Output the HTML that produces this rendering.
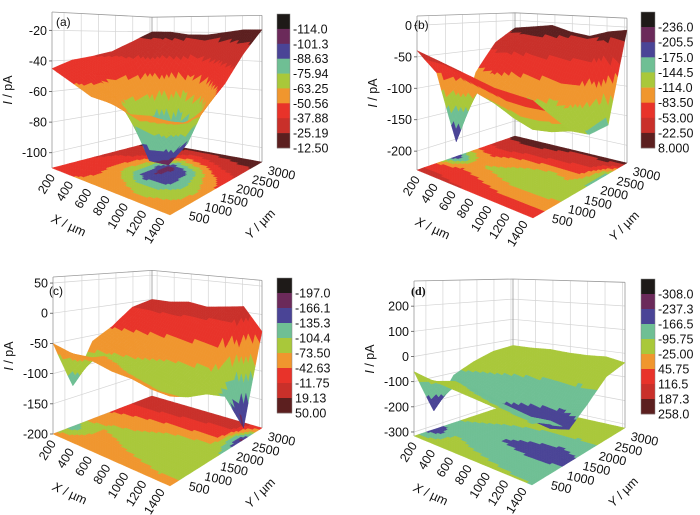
<!DOCTYPE html>
<html><head><meta charset="utf-8">
<style>
html,body{margin:0;padding:0;background:#fff;}
svg{display:block;font-family:"Liberation Sans",Arial,sans-serif;}
</style></head>
<body>
<svg id="fig" width="700" height="515" viewBox="0 0 700 515"></svg>
<script>
// ---- data ----
const xVals = [200, 400, 600, 800, 1000, 1200, 1400];
const yVals = [200, 760, 1320, 1880, 2440, 3000];
const xTickLabels = [200, 400, 600, 800, 1000, 1200, 1400];
const yTickLabels = [500, 1000, 1500, 2000, 2500, 3000];
const levelColors = ['#1e1a18','#6b2a5a','#4a4496','#6fbf94','#a9c83a','#f0962e','#e8332a','#c9302a','#5c1f1f'];

const gridA = [
  [-45,-50,-55,-55,-58,-55,-55],
  [-40,-45,-55,-65,-70,-65,-60],
  [-38,-45,-70,-100,-95,-75,-55],
  [-35,-40,-65,-108,-90,-60,-45],
  [-28,-30,-40,-55,-45,-35,-30],
  [-20,-20,-22,-22,-20,-18,-18]
];
const gridB = [
  [-40,-45,-50,-55,-60,-60,-60],
  [-80,-70,-80,-90,-100,-100,-95],
  [-205,-110,-120,-135,-145,-140,-130],
  [-90,-80,-100,-110,-120,-110,-150],
  [-40,-35,-45,-50,-55,-60,-150],
  [-15,-10,-5,-15,-20,-10,-5]
];
const gridC = [
  [-50,-55,-55,-60,-60,-65,-65],
  [-130,-70,-70,-75,-80,-85,-80],
  [-60,-75,-80,-90,-95,-100,-90],
  [-40,-50,-60,-70,-75,-80,-110],
  [-10,-10,-15,-15,-20,-25,-180],
  [0,0,5,0,5,10,-30]
];
const gridD = [
  [-60,-70,-75,-80,-85,-90,-95],
  [-240,-90,-100,-110,-120,-130,-120],
  [-110,-120,-150,-180,-200,-210,-190],
  [-70,-90,-110,-130,-140,-150,-130],
  [-40,-40,-45,-50,-50,-55,-60],
  [-30,-30,-25,-30,-30,-25,-40]
];

const legendA = [-114.0,-101.3,-88.63,-75.94,-63.25,-50.56,-37.88,-25.19,-12.50];
const legendB = [-236.0,-205.5,-175.0,-144.5,-114.0,-83.50,-53.00,-22.50,8.000];
const legendC = [-197.0,-166.1,-135.3,-104.4,-73.50,-42.63,-11.75,19.13,50.00];
const legendD = [-308.0,-237.3,-166.5,-95.75,-25.00,45.75,116.5,187.3,258.0];
const legendTextA = ['-114.0','-101.3','-88.63','-75.94','-63.25','-50.56','-37.88','-25.19','-12.50'];
const legendTextB = ['-236.0','-205.5','-175.0','-144.5','-114.0','-83.50','-53.00','-22.50','8.000'];
const legendTextC = ['-197.0','-166.1','-135.3','-104.4','-73.50','-42.63','-11.75','19.13','50.00'];
const legendTextD = ['-308.0','-237.3','-166.5','-95.75','-25.00','45.75','116.5','187.3','258.0'];

const zTicksA = [-100,-80,-60,-40,-20];
const zTicksB = [-200,-150,-100,-50,0];
const zTicksC = [-200,-150,-100,-50,0,50];
const zTicksD = [-300,-200,-100,0,100,200];

// ---- layout ----
const panels = [
  {id:'a', ox:0, oy:0, L:[52,168], F:[170,215], R:[262,162], B:[152,142], zmin:-110, zmax:-8, H:156,
   grid:gridA, levels:legendA, ltext:legendTextA, zt:zTicksA, cb:[277,14,13,134], letter:'(a)', lp:[56,26], serif:false},
  {id:'b', ox:350, oy:0, L:[67,170], F:[183,218], R:[277,163], B:[165,136], zmin:-230, zmax:15, H:154,
   grid:gridB, levels:legendB, ltext:legendTextB, zt:zTicksB, cb:[291,12,14,136], letter:'(b)', lp:[64,29], serif:false},
  {id:'c', ox:0, oy:258, L:[53,176], F:[170,228], R:[262,170], B:[152,138], zmin:-200, zmax:60, H:157,
   grid:gridC, levels:legendC, ltext:legendTextC, zt:zTicksC, cb:[277,20,15,135], letter:'(c)', lp:[49,37], serif:false},
  {id:'d', ox:350, oy:258, L:[64,178], F:[182,227], R:[275,170], B:[163,145], zmin:-316, zmax:300, H:155,
   grid:gridD, levels:legendD, ltext:legendTextD, zt:zTicksD, cb:[291,21,14,135], letter:'(d)', lp:[61,37], serif:true}
];
const XMIN=140, XMAX=1430, YMIN=150, YMAX=3060;
const NS='http://www.w3.org/2000/svg';
const svg=document.getElementById('fig');

function mk(tag, attrs, parent){
  const e=document.createElementNS(NS,tag);
  for(const k in attrs) e.setAttribute(k, attrs[k]);
  parent.appendChild(e); return e;
}
function xn(X){return (X-XMIN)/(XMAX-XMIN);}
function yn(Y){return (Y-YMIN)/(YMAX-YMIN);}
function proj(p,x,y,z){
  const w0=(1-x)*(1-y), w1=x*(1-y), w2=x*y, w3=(1-x)*y;
  const bx=p.L[0]*w0+p.F[0]*w1+p.R[0]*w2+p.B[0]*w3;
  const by=p.L[1]*w0+p.F[1]*w1+p.R[1]*w2+p.B[1]*w3;
  const h=p.H*(w0+1.1*w1+0.94*w2+0.8*w3);
  const zc=Math.max(p.zmin,Math.min(p.zmax,z));
  const t=(zc-p.zmin)/(p.zmax-p.zmin);
  return [bx, by-t*h];
}
function sample(grid,u,v){
  const i=Math.min(Math.floor(u),xVals.length-2), j=Math.min(Math.floor(v),yVals.length-2);
  const fu=u-i, fv=v-j;
  return grid[j][i]*(1-fu)*(1-fv)+grid[j][i+1]*fu*(1-fv)+grid[j+1][i+1]*fu*fv+grid[j+1][i]*(1-fu)*fv;
}
function colorFor(levels,v){
  let k=0; for(const l of levels){ if(v>l) k++; }
  return levelColors[Math.min(8,k)];
}
function pts(a){return a.map(p=>p[0].toFixed(1)+','+p[1].toFixed(1)).join(' ');}

panels.forEach(p=>{
  const g=mk('g',{transform:`translate(${p.ox},${p.oy})`},svg);
  
  
  const grid=mk('g',{stroke:'#d4d4d4','stroke-width':0.7,fill:'none'},g);
  
  
  yTickLabels.forEach(Y=>{const a=proj(p,0,yn(Y),p.zmin),b=proj(p,0,yn(Y),p.zmax);mk('line',{x1:a[0],y1:a[1],x2:b[0],y2:b[1]},grid);});
  xTickLabels.forEach(X=>{const a=proj(p,xn(X),1,p.zmin),b=proj(p,xn(X),1,p.zmax);mk('line',{x1:a[0],y1:a[1],x2:b[0],y2:b[1]},grid);});
  p.zt.forEach(z=>{const a=proj(p,0,0,z),b=proj(p,0,1,z),c=proj(p,1,1,z);mk('polyline',{points:pts([a,b,c])},grid);});
  const box=mk('g',{stroke:'#9a9a9a','stroke-width':0.8,fill:'none'},g);
  
  
  mk('polyline',{points:pts([proj(p,0,0,p.zmax),proj(p,0,1,p.zmax),proj(p,1,1,p.zmax)])},box);
  [[0,0],[0,1],[1,1]].forEach(c=>{const a=proj(p,c[0],c[1],p.zmin),b=proj(p,c[0],c[1],p.zmax);mk('line',{x1:a[0],y1:a[1],x2:b[0],y2:b[1]},box);});

  const NSUB=8, nx=(xVals.length-1)*NSUB, ny=(yVals.length-1)*NSUB;
  const x0=0, x1=1, y0=0, y1=1;
  const cells=[];
  for(let j=0;j<ny;j++)for(let i=0;i<nx;i++){
    const u0=i/NSUB,u1=(i+1)/NSUB,v0=j/NSUB,v1=(j+1)/NSUB;
    const corners=[[u0,v0],[u1,v0],[u1,v1],[u0,v1]];
    const vals=corners.map(c=>sample(p.grid,c[0],c[1]));
    const avg=(vals[0]+vals[1]+vals[2]+vals[3])/4;
    const xy=corners.map(c=>[x0+(x1-x0)*c[0]/(xVals.length-1), y0+(y1-y0)*c[1]/(yVals.length-1)]);
    cells.push({xy,vals,avg,key:(xy[0][1]-xy[0][0])});
  }
  const floor=mk('g',{},g);
  
  
  cells.forEach(c=>{const col=colorFor(p.levels,c.avg);
    mk('polygon',{points:pts(c.xy.map(q=>proj(p,q[0],q[1],p.zmin))),fill:col,stroke:col,'stroke-width':0.4},floor);});
  const surf=mk('g',{},g);
  
  
  cells.slice().sort((a,b)=>b.key-a.key).forEach(c=>{const col=colorFor(p.levels,c.avg);
    mk('polygon',{points:pts(c.xy.map((q,k)=>proj(p,q[0],q[1],c.vals[k]))),fill:col,stroke:col,'stroke-width':0.4},surf);});

  const zax=mk('g',{'font-size':12.5,fill:'#111'},g);
  
  
  p.zt.forEach(z=>{const a=proj(p,0,0,z);
    mk('line',{x1:a[0]-3,y1:a[1],x2:a[0],y2:a[1],stroke:'#555','stroke-width':0.8},zax);
    const t=mk('text',{x:a[0]-5,y:a[1]+4.5,'text-anchor':'end'},zax); t.textContent=z;});
  const zt=mk('text',{x:0,y:0,'font-size':12.5,fill:'#111','text-anchor':'middle',transform:`translate(${p.L[0]-40},${(p.L[1]-p.H/2).toFixed(0)}) rotate(-90)`},g);
  
  
  zt.innerHTML='<tspan font-style="italic">I</tspan> / pA';
  const xax=mk('g',{'font-size':12.5,fill:'#111'},g);
  
  
  xTickLabels.forEach(X=>{const a=proj(p,xn(X),0,p.zmin);
    const t=mk('text',{x:0,y:0,'text-anchor':'end',transform:`translate(${(a[0]-2).toFixed(1)},${(a[1]+7).toFixed(1)}) rotate(-58)`},xax);t.textContent=X;});
  const xa=proj(p,0.45,0,p.zmin);
  const xt=mk('text',{x:0,y:0,'font-size':12.5,fill:'#111','text-anchor':'middle',transform:`translate(${(xa[0]-38).toFixed(0)},${(xa[1]+40).toFixed(0)}) rotate(25)`},g);
  
  
  xt.innerHTML='<tspan font-style="italic">X</tspan> / µm';
  const yax=mk('g',{'font-size':12.5,fill:'#111'},g);
  
  
  yTickLabels.forEach(Y=>{const a=proj(p,1,yn(Y),p.zmin);
    const t=mk('text',{x:0,y:0,'text-anchor':'start',transform:`translate(${(a[0]+7).toFixed(1)},${(a[1]+11).toFixed(1)}) rotate(12)`},yax);t.textContent=Y;});
  const ya=proj(p,1,0.45,p.zmin);
  const yt=mk('text',{x:0,y:0,'font-size':12.5,fill:'#111','text-anchor':'middle',transform:`translate(${(ya[0]+52).toFixed(0)},${(ya[1]+36).toFixed(0)}) rotate(-45)`},g);
  
  
  yt.innerHTML='<tspan font-style="italic">Y</tspan> / µm';
  const lt=mk('text',{x:p.lp[0],y:p.lp[1],'font-size':12,fill:'#111'},g);
  if(p.serif){lt.setAttribute('font-family','"Liberation Serif",serif');lt.setAttribute('font-weight','bold');}
  
  
  lt.textContent=p.letter;
  const cb=mk('g',{},g);
  
  
  const [cx,cy,cw,ch]=p.cb, bh=ch/9;
  levelColors.forEach((col,k)=>{
    const r=mk('rect',{x:cx,y:(cy+k*bh).toFixed(1),width:cw,height:(bh+0.3).toFixed(1),fill:col},cb);
    
    
  });
  mk('rect',{x:cx,y:cy,width:cw,height:ch,fill:'none',stroke:'#888','stroke-width':0.5},cb);
  p.ltext.forEach((s,k)=>{
    const t=mk('text',{x:cx+cw+3,y:(cy+(k+1)*bh+4.5).toFixed(1),'font-size':12.5,fill:'#111'},cb);
    
    
    t.textContent=s;
  });
});
</script>
</body></html>
